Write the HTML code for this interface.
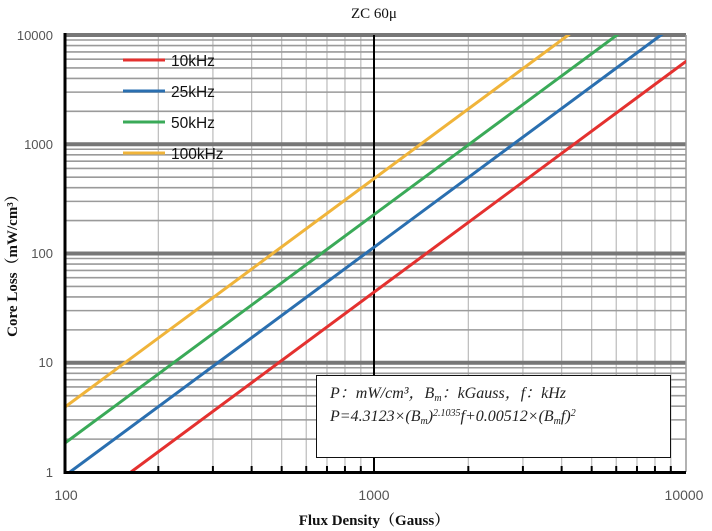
<!DOCTYPE html>
<html><head><meta charset="utf-8"><style>
body{margin:0;background:#fff;}
svg{display:block;}
</style></head><body>
<svg width="712" height="531" xmlns="http://www.w3.org/2000/svg">
<rect width="712" height="531" fill="#fff"/>
<g id="grid"></g>
<script>
(function(){
var g=document.getElementById('grid'),ns='http://www.w3.org/2000/svg';
function L(x1,y1,x2,y2,c,w){var l=document.createElementNS(ns,'line');l.setAttribute('x1',x1);l.setAttribute('y1',y1);l.setAttribute('x2',x2);l.setAttribute('y2',y2);l.setAttribute('stroke',c);l.setAttribute('stroke-width',w);g.appendChild(l);}
var X0=65,XD=310,Y0=472,YD=109.25;
for(var d=0;d<2;d++)for(var k=2;k<=9;k++){var x=X0+XD*(d+Math.log10(k));L(x,35,x,472,'#bbb',1.2);L(x,466,x,472,'#000',2);}
for(var d=0;d<4;d++)for(var k=2;k<=9;k++){var y=Y0-YD*(d+Math.log10(k));L(65,y,686,y,'#9a9a9a',1.6);}
for(var d=1;d<=4;d++){var y=Y0-YD*d;L(65,y,686,y,'#777',4);}
L(686,35,686,472,'#999',1.5);
})();
</script>
<line x1="374" y1="35" x2="374" y2="472" stroke="#000" stroke-width="2"/>
<defs><clipPath id="c"><rect x="65" y="35" width="621" height="437"/></clipPath></defs>
<g clip-path="url(#c)" stroke-width="3" fill="none">
<line x1="131" y1="472" x2="700" y2="51" stroke="#e4312f"/>
<line x1="70" y1="472" x2="680" y2="21" stroke="#2a6fb0"/>
<line x1="65" y1="443" x2="640" y2="18" stroke="#3aaa58"/>
<line x1="65" y1="407" x2="590" y2="19" stroke="#f0b43a"/>
</g>
<line x1="65" y1="33" x2="65" y2="474" stroke="#000" stroke-width="3"/>
<line x1="64" y1="472.5" x2="686" y2="472.5" stroke="#000" stroke-width="3"/>
<g font-family="Liberation Sans, sans-serif" font-size="15.5" fill="#111">
<line x1="123" y1="60" x2="165" y2="60" stroke="#e4312f" stroke-width="3"/><text x="171" y="66">10kHz</text>
<line x1="123" y1="91" x2="165" y2="91" stroke="#2a6fb0" stroke-width="3"/><text x="171" y="97">25kHz</text>
<line x1="123" y1="122" x2="165" y2="122" stroke="#3aaa58" stroke-width="3"/><text x="171" y="128">50kHz</text>
<line x1="123" y1="153" x2="165" y2="153" stroke="#f0b43a" stroke-width="3"/><text x="171" y="159">100kHz</text>
</g>
<g font-family="Liberation Sans, sans-serif" font-size="13" fill="#555" text-anchor="end">
<text x="53" y="40">10000</text><text x="53" y="149">1000</text><text x="53" y="258">100</text><text x="53" y="367">10</text><text x="53" y="477">1</text>
</g>
<g font-family="Liberation Sans, sans-serif" font-size="14" fill="#555" text-anchor="middle">
<text x="66" y="500">100</text><text x="374" y="500">1000</text><text x="684" y="500">10000</text>
</g>
<text x="374" y="18" font-family="Liberation Serif, serif" font-size="15" text-anchor="middle" fill="#111">ZC 60μ</text>
<text x="374" y="525" font-family="Liberation Serif, 'Noto Serif CJK SC', serif" font-size="15" font-weight="bold" text-anchor="middle" fill="#111">Flux Density（Gauss）</text>
<text transform="translate(17,262) rotate(-90)" font-family="Liberation Serif, 'Noto Serif CJK SC', serif" font-size="15" font-weight="bold" text-anchor="middle" fill="#111">Core Loss（mW/cm³）</text>
<rect x="316.5" y="375.5" width="354" height="82" fill="#fff" stroke="#111" stroke-width="1"/>
<g font-family="Liberation Serif, 'Noto Serif CJK SC', serif" font-size="16" font-style="italic" fill="#222">
<text x="330" y="398">P：mW/cm³，B<tspan font-size="10" dy="3">m</tspan><tspan dy="-3">：kGauss，f：kHz</tspan></text>
<text x="330" y="421">P=4.3123×(B<tspan font-size="10" dy="3">m</tspan><tspan dy="-3">)</tspan><tspan font-size="10" dy="-5">2.1035</tspan><tspan dy="5">f+0.00512×(B</tspan><tspan font-size="10" dy="3">m</tspan><tspan dy="-3">f)</tspan><tspan font-size="10" dy="-5">2</tspan></text>
</g>
</svg>
</body></html>
